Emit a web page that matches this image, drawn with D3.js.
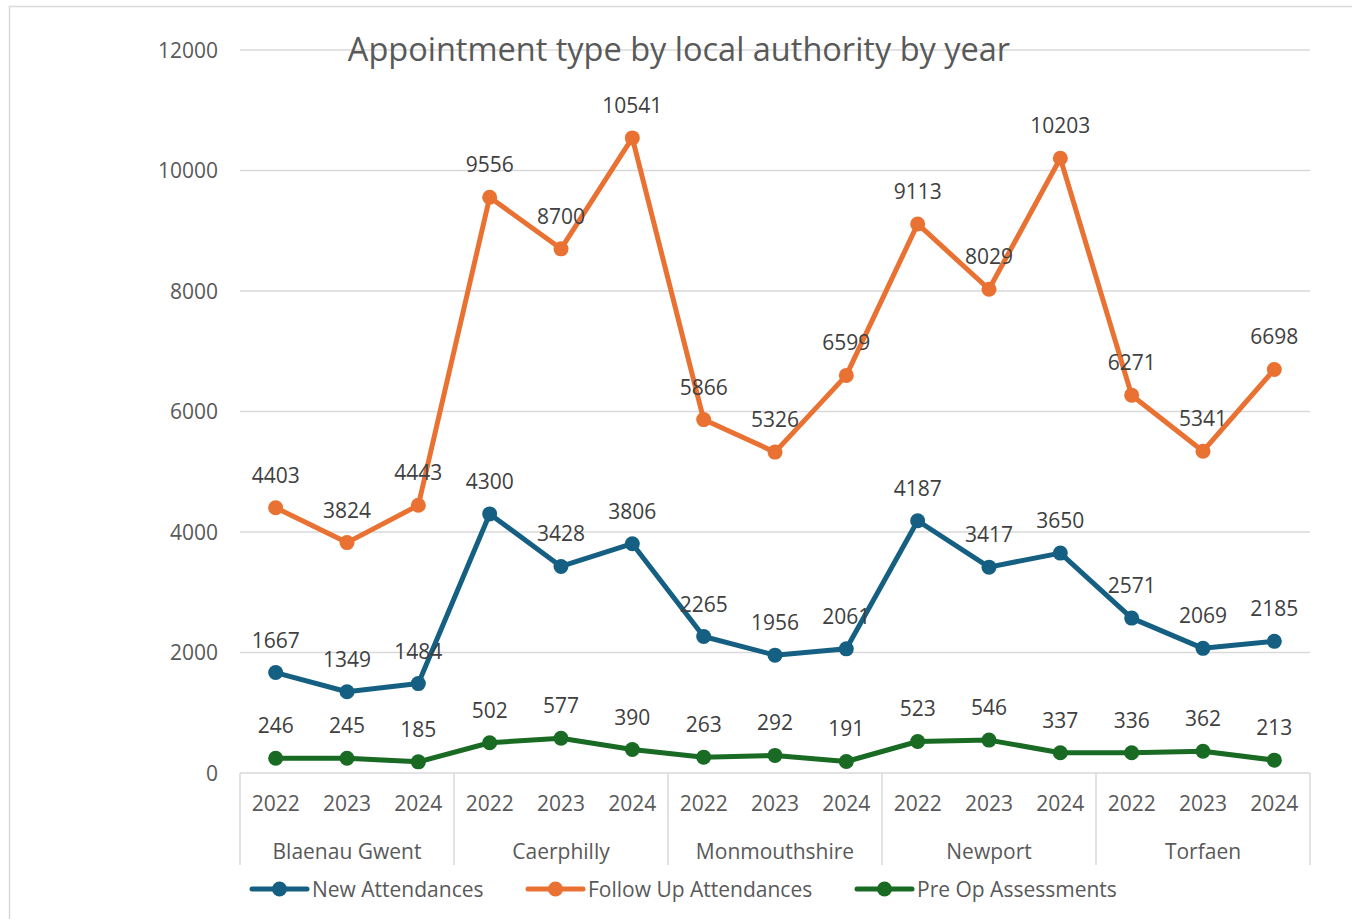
<!DOCTYPE html>
<html>
<head>
<meta charset="utf-8">
<script src="https://cdn.jsdelivr.net/npm/d3@7"></script>
<style>
  html, body { margin: 0; padding: 0; background: #fff; }
  svg { display: block; font-family: "Open Sans", "Noto Sans", sans-serif; }
</style>
</head>
<body>
<svg id="chart" width="1352" height="919"></svg>
<script>
// Local authorities and years on the two-level category axis
const authorities = ["Blaenau Gwent", "Caerphilly", "Monmouthshire", "Newport", "Torfaen"];
const years = ["2022", "2023", "2024"];

// Series values, in authority/year order
const newAttendances = [1667, 1349, 1484, 4300, 3428, 3806, 2265, 1956, 2061, 4187, 3417, 3650, 2571, 2069, 2185];
const followUpAttendances = [4403, 3824, 4443, 9556, 8700, 10541, 5866, 5326, 6599, 9113, 8029, 10203, 6271, 5341, 6698];
const preOpAssessments = [246, 245, 185, 502, 577, 390, 263, 292, 191, 523, 546, 337, 336, 362, 213];

const yTicks = [0, 2000, 4000, 6000, 8000, 10000, 12000];

const seriesNames = ["New Attendances", "Follow Up Attendances", "Pre Op Assessments"];
const seriesColors = ["#156082", "#E97132", "#196B24"];
const seriesValues = [newAttendances, followUpAttendances, preOpAssessments];

const svg = d3.select("#chart");
const plot = { left: 240, right: 1310, top: 50, bottom: 773 };
const fs = 21;

// Outer chart frame
svg.append("rect")
  .attr("x", 9.5).attr("y", 6.5)
  .attr("width", 1352).attr("height", 930)
  .attr("fill", "none").attr("stroke", "#d9d9d9").attr("stroke-width", 1.5);

const categories = authorities.flatMap(a => years.map(y => a + "|" + y));

const x = d3.scaleBand().domain(categories).range([plot.left, plot.right]);
const y = d3.scaleLinear().domain([0, 12000]).range([plot.bottom, plot.top]);
const groupX = d3.scaleBand().domain(authorities).range([plot.left, plot.right]);

// Horizontal gridlines
svg.append("g")
  .selectAll("line").data(yTicks.filter(t => t > 0)).join("line")
  .attr("x1", plot.left).attr("x2", plot.right)
  .attr("y1", d => y(d)).attr("y2", d => y(d))
  .attr("stroke", "#d9d9d9").attr("stroke-width", 1.5);

// Y axis labels
const yAxis = d3.axisLeft(y).tickValues(yTicks).tickSize(0).tickPadding(0).tickFormat(d3.format("d"));
const yg = svg.append("g").attr("transform", `translate(${plot.left - 22},0)`).call(yAxis);
yg.select(".domain").remove();
yg.selectAll("text").attr("font-size", fs).attr("fill", "#595959")
  .attr("font-family", "'Open Sans', sans-serif").attr("dy", "0.35em");

// Category axis baseline and group separators
svg.append("line")
  .attr("x1", plot.left).attr("x2", plot.right)
  .attr("y1", plot.bottom).attr("y2", plot.bottom)
  .attr("stroke", "#d9d9d9").attr("stroke-width", 1.5);

const seps = authorities.map(a => groupX(a)).concat([plot.right]);
svg.append("g").selectAll("line").data(seps).join("line")
  .attr("x1", d => d).attr("x2", d => d)
  .attr("y1", plot.bottom).attr("y2", 865)
  .attr("stroke", "#d9d9d9").attr("stroke-width", 1.5);

// Year labels
svg.append("g").selectAll("text").data(categories).join("text")
  .attr("x", d => x(d) + x.bandwidth() / 2)
  .attr("y", 811)
  .attr("text-anchor", "middle")
  .attr("font-size", fs).attr("fill", "#595959")
  .text(d => d.split("|")[1]);

// Authority labels
svg.append("g").selectAll("text").data(authorities).join("text")
  .attr("x", d => groupX(d) + groupX.bandwidth() / 2)
  .attr("y", 859)
  .attr("text-anchor", "middle")
  .attr("font-size", fs).attr("fill", "#595959")
  .text(d => d);

// Title
svg.append("text")
  .attr("x", 679).attr("y", 61)
  .attr("text-anchor", "middle")
  .attr("font-size", 32.5).attr("fill", "#595959")
  .text("Appointment type by local authority by year");

// Lines, markers and value labels
const line = d3.line()
  .x((d, i) => x(categories[i]) + x.bandwidth() / 2)
  .y(d => y(d));

seriesValues.forEach((vals, s) => {
  const g = svg.append("g");
  g.append("path").datum(vals)
    .attr("d", line)
    .attr("fill", "none")
    .attr("stroke", seriesColors[s])
    .attr("stroke-width", 5)
    .attr("stroke-linejoin", "round")
    .attr("stroke-linecap", "round");
  g.selectAll("circle").data(vals).join("circle")
    .attr("cx", (d, i) => x(categories[i]) + x.bandwidth() / 2)
    .attr("cy", d => y(d))
    .attr("r", 7.5)
    .attr("fill", seriesColors[s]);
});

seriesValues.forEach((vals, s) => {
  svg.append("g").selectAll("text").data(vals).join("text")
    .attr("x", (d, i) => x(categories[i]) + x.bandwidth() / 2)
    .attr("y", d => y(d) - 25)
    .attr("text-anchor", "middle")
    .attr("font-size", fs).attr("fill", "#404040")
    .text(d => d);
});

// Legend
const legendX = [252, 528, 857];
const legend = svg.append("g");
seriesNames.forEach((name, s) => {
  const lx = legendX[s];
  const ly = 889;
  legend.append("line")
    .attr("x1", lx).attr("x2", lx + 55)
    .attr("y1", ly).attr("y2", ly)
    .attr("stroke", seriesColors[s]).attr("stroke-width", 5)
    .attr("stroke-linecap", "round");
  legend.append("circle")
    .attr("cx", lx + 27.5).attr("cy", ly).attr("r", 7.5)
    .attr("fill", seriesColors[s]);
  legend.append("text")
    .attr("x", lx + 60).attr("y", ly + 7.5)
    .attr("font-size", fs).attr("fill", "#595959")
    .text(name);
});
</script>
</body>
</html>
